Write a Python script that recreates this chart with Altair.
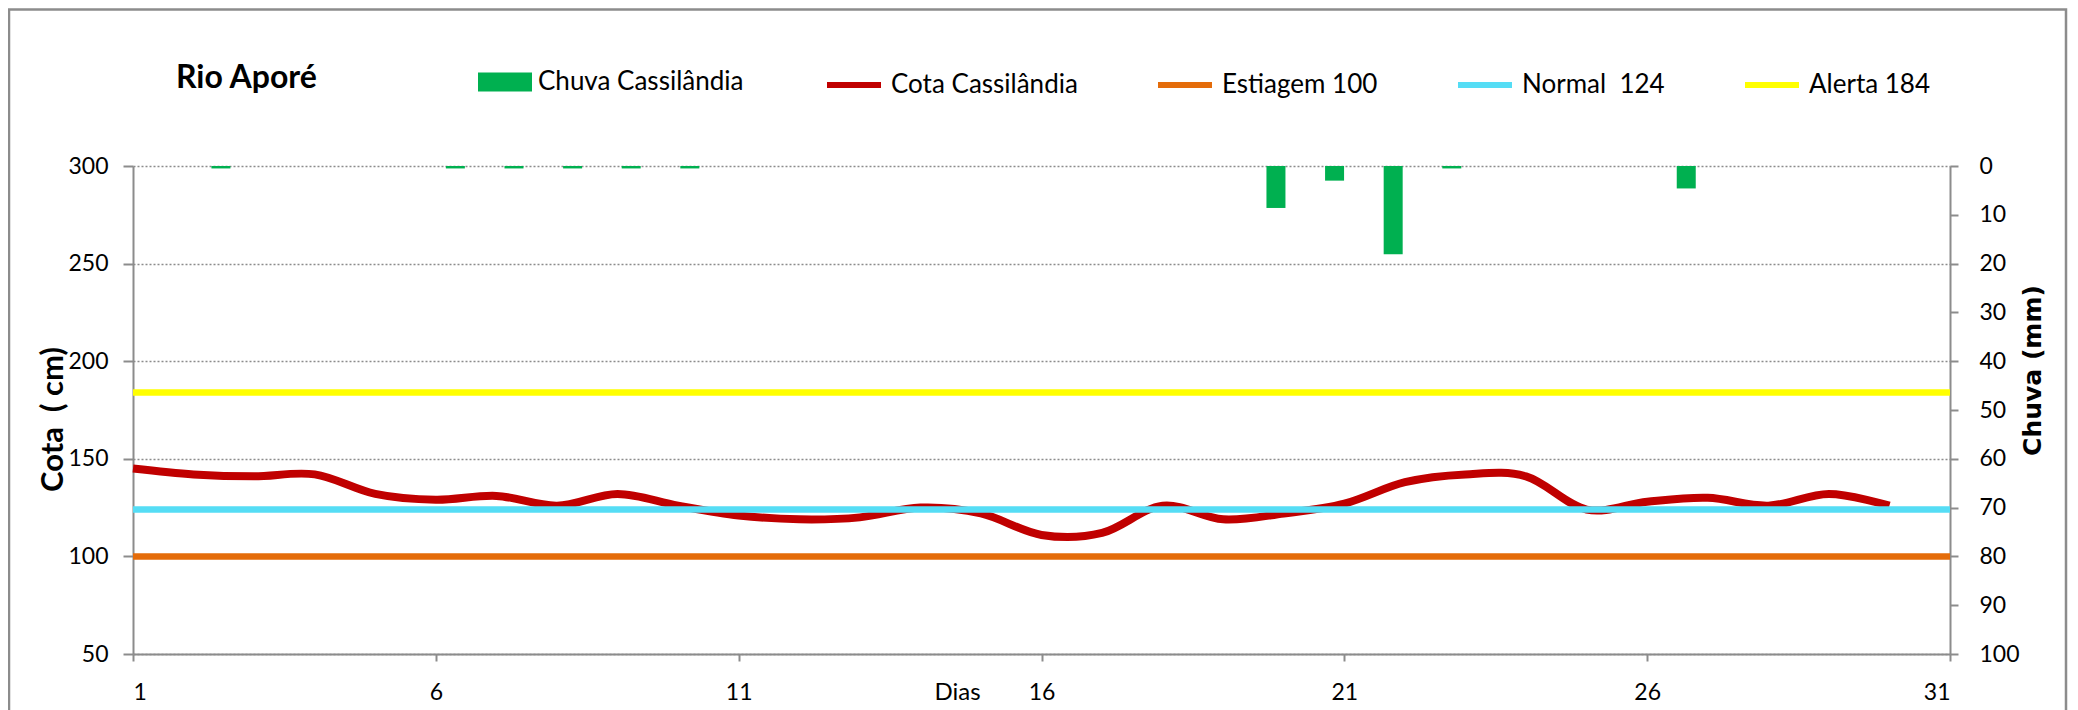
import altair as alt
import pandas as pd

# ---- data ----
dias = list(range(1, 31))
cota = [145, 142, 141, 142, 132, 129, 131, 126, 132, 126,
        121, 119, 120, 125, 122, 111, 112, 126, 119, 122,
        127, 138, 142, 141, 124, 128, 130, 126, 132, 126]
dias_chuva = list(range(1, 32))
chuva = [0, 0.5, 0, 0, 0, 0.5, 0.5, 0.5, 0.5, 0.5,
         0, 0, 0, 0, 0, 0, 0, 0, 0, 8.6,
         3.0, 18.1, 0.5, 0, 0, 0, 4.6, 0, 0, 0, 0]
ref_nomes = ["Estiagem 100", "Normal\u00a0 124", "Alerta 184"]
ref_valores = [100, 124, 184]
serie_cota = "Cota Cassilândia"
serie_chuva = "Chuva Cassilândia"
titulo = "Rio Aporé"
x_ticks = [1, 6, 11, 16, 21, 26, 31]
cota_ticks = [50, 100, 150, 200, 250, 300]
chuva_ticks = list(range(0, 101, 10))

line_names = [serie_cota] + ref_nomes
line_colors = ["#C00000", "#E46C0A", "#55DDF5", "#FFFF00"]
bar_color = "#00B050"

FONT = "Lato"

df_cota = pd.DataFrame({"dia": dias, "cota": cota, "serie": serie_cota})
df_ref = pd.DataFrame({"nome": ref_nomes, "valor": ref_valores})
df_chuva = pd.DataFrame({"dia": dias_chuva, "chuva": chuva, "serie": serie_chuva})
df_tit = pd.DataFrame({"t": [titulo]})

color_lines = alt.Scale(domain=line_names, range=line_colors)
line_legend = alt.Legend(title=None, orient="none", legendX=691, legendY=-111,
                         direction="horizontal", symbolType="stroke", symbolSize=2916,
                         symbolStrokeWidth=6, labelOffset=7, columnPadding=68, padding=0)

y_cota_axis = alt.Axis(title="Cota\u00a0 ( cm)", titleFont=FONT, titleFontWeight="bold",
                       titleFontSize=31, titleAngle=270, titleX=-80, titleY=253,
                       titleAlign="center", titleBaseline="middle", values=cota_ticks,
                       tickSize=10, labelPadding=15, grid=True)
y_cota_scale = alt.Scale(domain=[50, 300], nice=False, zero=False)

line = alt.Chart(df_cota).mark_line(interpolate="cardinal", strokeWidth=8).encode(
    x=alt.X("dia:Q", scale=alt.Scale(domain=[1, 31], nice=False, zero=False),
            axis=alt.Axis(title="Dias", titleFont=FONT, titleFontWeight="normal",
                          titleFontSize=24, titleX=824, titleY=38, titleAlign="center",
                          titleBaseline="middle", values=x_ticks, format="d",
                          tickSize=7, labelPadding=20, grid=False)),
    y=alt.Y("cota:Q", scale=y_cota_scale, axis=y_cota_axis),
    color=alt.Color("serie:N", scale=color_lines, legend=line_legend),
)

rules = alt.Chart(df_ref).mark_rule(strokeWidth=6.5).encode(
    y=alt.Y("valor:Q", scale=y_cota_scale, axis=y_cota_axis),
    color=alt.Color("nome:N", scale=color_lines, legend=line_legend),
)

bars = alt.Chart(df_chuva).mark_bar(size=19).encode(
    x=alt.X("dia:O", scale=alt.Scale(domain=dias_chuva, paddingInner=0, paddingOuter=0),
            axis=None),
    y=alt.Y("chuva:Q", scale=alt.Scale(domain=[0, 100], reverse=True, nice=False),
            axis=alt.Axis(orient="right", title="Chuva (mm)", titleFont="DejaVu Sans",
                          titleFontWeight="bold", titleFontSize=25, titleAngle=270,
                          titleX=82, titleY=204, titleAlign="center",
                          titleBaseline="middle", values=chuva_ticks, tickSize=8,
                          labelPadding=21, grid=False)),
    color=alt.Color("serie:N", scale=alt.Scale(domain=[serie_chuva], range=[bar_color]),
                    legend=alt.Legend(title=None, orient="none", legendX=345, legendY=-111,
                                      direction="horizontal",
                                      symbolType="M-1,-0.35L1,-0.35L1,0.35L-1,0.35Z",
                                      symbolSize=2916, symbolStrokeWidth=0,
                                      labelOffset=6, padding=0)),
)

title_mark = alt.Chart(df_tit).mark_text(
    font=FONT, fontWeight="bold", fontSize=32, align="left", baseline="alphabetic",
    color="#000000").encode(text="t:N", x=alt.value(43), y=alt.value(-78))

border = alt.Chart(df_tit).mark_rect(
    fillOpacity=0, stroke="#8c8c8c", strokeWidth=2.5).encode(
    x=alt.value(-124), x2=alt.value(1933), y=alt.value(-156.5), y2=alt.value(620))

lines_layer = alt.layer(line, rules)

chart = alt.layer(border, bars, lines_layer, title_mark).resolve_scale(
    x="independent", y="independent", color="independent"
).properties(
    width=1817, height=488,
    padding={"left": 125, "top": 158, "right": 118, "bottom": 66},
    autosize=alt.AutoSizeParams(type="none"),
    background="white",
).configure_view(strokeWidth=0).configure_axis(
    labelFont=FONT, labelFontSize=23, labelColor="#000000",
    domainColor="#8c8c8c", domainWidth=2, tickColor="#8c8c8c", tickWidth=2,
    gridColor="#8c8c8c", gridDash=[2, 2], gridWidth=1.5, titleColor="#000000",
).configure_legend(
    labelFont=FONT, labelFontSize=26, labelColor="#000000", labelLimit=400,
)

chart.save("out.html", embed_options={"renderer": "svg", "actions": False})
